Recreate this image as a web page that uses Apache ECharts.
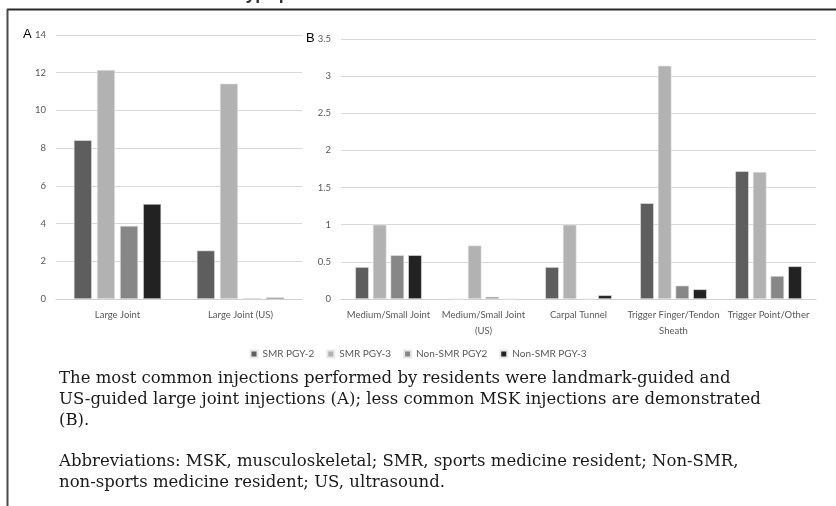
<!DOCTYPE html>
<html>
<head>
<meta charset="utf-8">
<script src="https://cdn.jsdelivr.net/npm/echarts@6/dist/echarts.min.js"></script>
<style>
html,body{margin:0;padding:0;background:#fff;}
#c{width:836px;height:506px;}
</style>
</head>
<body>
<div id="c"></div>
<script>
// ---- data ----
const seriesNames = ['SMR PGY-2', 'SMR PGY-3', 'Non-SMR PGY2', 'Non-SMR PGY-3'];
const colors = ['#5e5e5e', '#b2b2b2', '#878787', '#222222'];

const catsA = ['Large Joint', 'Large Joint (US)'];
const smrPgy2A = [8.42, 2.57];
const smrPgy3A = [12.14, 11.42];
const nonPgy2A = [3.88, 0.05];
const nonPgy3A = [5.04, 0.08];

const catsB = ['Medium/Small Joint', 'Medium/Small Joint (US)', 'Carpal Tunnel', 'Trigger Finger/Tendon Sheath', 'Trigger Point/Other'];
const smrPgy2B = [0.43, 0, 0.43, 1.29, 1.72];
const smrPgy3B = [1.0, 0.72, 1.0, 3.14, 1.71];
const nonPgy2B = [0.59, 0.03, 0, 0.18, 0.31];
const nonPgy3B = [0.59, 0, 0.05, 0.13, 0.44];

const ticksA = {min: 0, max: 14, interval: 2};
const ticksB = {min: 0, max: 3.5, interval: 0.5};

const titleText = 'Resident Type per Month Across Institutions and Resident Levels';
const captionLines = [
  'The most common injections performed by residents were landmark-guided and',
  'US-guided large joint injections (A); less common MSK injections are demonstrated',
  '(B).',
  'Abbreviations: MSK, musculoskeletal; SMR, sports medicine resident; Non-SMR,',
  'non-sports medicine resident; US, ultrasound.'
];

// ---- helpers ----
function wrap(s, maxChars) {
  const words = s.split(' ');
  const lines = [];
  let cur = '';
  words.forEach(w => {
    const t = cur ? cur + ' ' + w : w;
    if (t.length > maxChars && cur) { lines.push(cur); cur = w; } else { cur = t; }
  });
  if (cur) lines.push(cur);
  return lines.join('\n');
}

// ---- chart ----
const axisFont = {fontFamily: 'Lato, "Open Sans", sans-serif', fontSize: 9.5, color: '#595959'};
const chart = echarts.init(document.getElementById('c'));

function mkY(idx, t) {
  return {
    type: 'value', gridIndex: idx, min: t.min, max: t.max, interval: t.interval,
    axisLine: {show: false}, axisTick: {show: false},
    splitLine: {lineStyle: {color: '#d9d9d9', width: 1}},
    axisLabel: Object.assign({margin: 10}, axisFont)
  };
}
function mkX(idx, cats) {
  return {
    type: 'category', gridIndex: idx, data: cats,
    axisLine: {lineStyle: {color: '#d0d0d0'}}, axisTick: {show: false},
    axisLabel: Object.assign({margin: 8, interval: 0, lineHeight: 16,
      formatter: v => wrap(v, 21)}, axisFont)
  };
}
const dataA = [smrPgy2A, smrPgy3A, nonPgy2A, nonPgy3A];
const dataB = [smrPgy2B, smrPgy3B, nonPgy2B, nonPgy3B];
const series = [];
seriesNames.forEach((n, i) => {
  series.push({name: n, type: 'bar', xAxisIndex: 0, yAxisIndex: 0, data: dataA[i],
    itemStyle: {color: colors[i], borderColor: '#e8e8e8', borderWidth: 0.6},
    barGap: '28%', barCategoryGap: '29%', animation: false});
  series.push({name: n, type: 'bar', xAxisIndex: 1, yAxisIndex: 1, data: dataB[i],
    itemStyle: {color: colors[i], borderColor: '#e8e8e8', borderWidth: 0.6},
    barGap: '30%', barCategoryGap: '30%', animation: false});
});

const graphics = [
  {type: 'line', shape: {x1: 7, y1: 9.5, x2: 836, y2: 9.5}, style: {stroke: '#2a2a2a', lineWidth: 2}},
  {type: 'line', shape: {x1: 7.5, y1: 9, x2: 7.5, y2: 506}, style: {stroke: '#4a4a4a', lineWidth: 2}},
  {type: 'text', x: 421, y: -6, style: {text: titleText, textAlign: 'center', textVerticalAlign: 'middle',
    font: 'bold 16px "Open Sans", sans-serif', fill: '#333'}},
  {type: 'text', x: 23, y: 34, style: {text: 'A', textVerticalAlign: 'middle', font: '13px "Liberation Sans", sans-serif', fill: '#000'}},
  {type: 'text', x: 306, y: 38, style: {text: 'B', textVerticalAlign: 'middle', font: '13px "Liberation Sans", sans-serif', fill: '#000'}}
];
const capY = [379, 400, 421, 462, 483];
captionLines.forEach((t, i) => {
  graphics.push({type: 'text', x: 59, y: capY[i], style: {text: t, textVerticalAlign: 'middle',
    font: '16.5px "DejaVu Serif", serif', fill: '#1a1a1a'}});
});

chart.setOption({
  animation: false,
  grid: [
    {left: 56, top: 35, width: 246, height: 264},
    {left: 341, top: 39, width: 475, height: 260}
  ],
  xAxis: [mkX(0, catsA), mkX(1, catsB)],
  yAxis: [mkY(0, ticksA), mkY(1, ticksB)],
  legend: {
    data: seriesNames, top: 344, left: 'center', icon: 'rect', itemWidth: 7, itemHeight: 7, itemGap: 12,
    textStyle: {fontFamily: axisFont.fontFamily, fontSize: 10, color: '#595959'}
  },
  graphic: graphics,
  series: series
});
</script>
</body>
</html>
